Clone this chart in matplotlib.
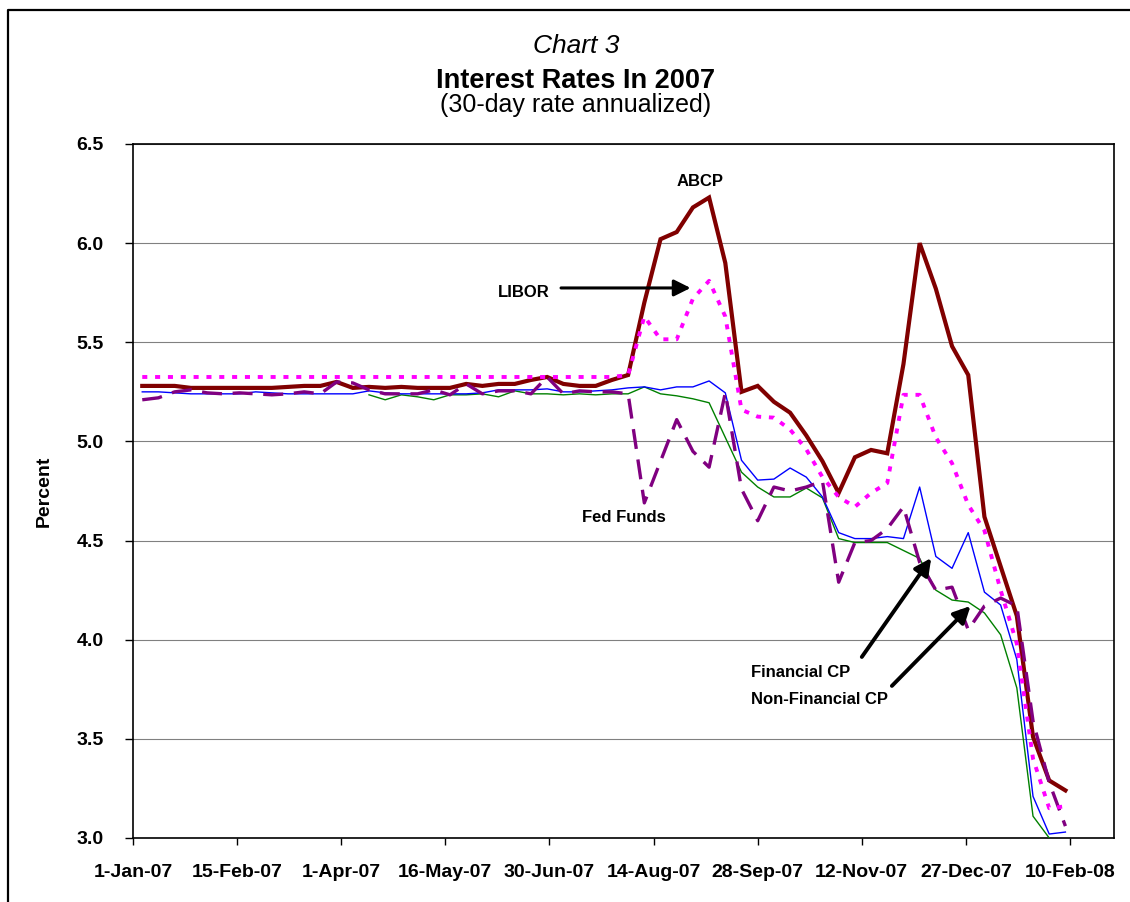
import datetime as dt
import numpy as np
import matplotlib
matplotlib.use("Agg")
import matplotlib.pyplot as plt
from matplotlib.lines import Line2D
from matplotlib import font_manager as fm

# ---------------- data (weekly, Fridays) ----------------
first_week = dt.date(2007, 1, 5)
n_weeks = 58
dates = [first_week + dt.timedelta(days=7 * i) for i in range(n_weeks)]

abcp = [5.28, 5.28, 5.28, 5.27, 5.27, 5.27, 5.27, 5.27, 5.27, 5.275,
        5.28, 5.28, 5.30, 5.27, 5.275, 5.27, 5.275, 5.27, 5.27, 5.27,
        5.29, 5.28, 5.29, 5.29, 5.31, 5.325, 5.29, 5.28, 5.28, 5.31,
        5.335, 5.70, 6.02, 6.056, 6.18, 6.23, 5.90, 5.25, 5.28, 5.20,
        5.145, 5.03, 4.90, 4.74, 4.92, 4.957, 4.94, 5.39, 6.00, 5.77,
        5.48, 5.335, 4.62, 4.37, 4.12, 3.51, 3.29, 3.24]

libor = [5.325, 5.325, 5.325, 5.325, 5.325, 5.325, 5.325, 5.325, 5.325, 5.325,
         5.325, 5.325, 5.325, 5.325, 5.325, 5.325, 5.325, 5.325, 5.325, 5.325,
         5.325, 5.325, 5.325, 5.325, 5.325, 5.325, 5.325, 5.325, 5.325, 5.325,
         5.335, 5.63, 5.515, 5.515, 5.72, 5.81, 5.63, 5.16, 5.125, 5.12,
         5.06, 4.96, 4.82, 4.72, 4.67, 4.74, 4.79, 5.235, 5.235, 5.02,
         4.89, 4.68, 4.55, 4.25, 3.98, 3.40, 3.15, 3.16]

fin_cp = [5.25, 5.25, 5.245, 5.24, 5.24, 5.24, 5.24, 5.25, 5.245, 5.24,
          5.24, 5.24, 5.24, 5.24, 5.255, 5.245, 5.24, 5.24, 5.24, 5.24,
          5.24, 5.245, 5.26, 5.26, 5.26, 5.265, 5.25, 5.25, 5.255, 5.26,
          5.27, 5.275, 5.26, 5.275, 5.275, 5.305, 5.245, 4.905, 4.805, 4.81,
          4.866, 4.82, 4.72, 4.54, 4.51, 4.51, 4.52, 4.51, 4.77, 4.42,
          4.36, 4.54, 4.24, 4.175, 3.90, 3.21, 3.02, 3.03]

nonfin_cp = [np.nan, np.nan, np.nan, np.nan, np.nan, np.nan, np.nan, np.nan, np.nan, np.nan,
             np.nan, np.nan, np.nan, np.nan, 5.235, 5.21, 5.235, 5.225, 5.21, 5.235,
             5.235, 5.24, 5.225, 5.255, 5.24, 5.24, 5.235, 5.24, 5.235, 5.24,
             5.24, 5.275, 5.24, 5.23, 5.215, 5.195, 5.02, 4.845, 4.77, 4.72,
             4.72, 4.765, 4.715, 4.51, 4.49, 4.49, 4.49, 4.45, 4.41, 4.25,
             4.20, 4.19, 4.135, 4.025, 3.757, 3.11, 3.00, np.nan]

fed_funds = [5.21, 5.22, 5.25, 5.26, 5.245, 5.24, 5.245, 5.24, 5.235, 5.24,
             5.25, 5.24, 5.30, 5.295, 5.26, 5.24, 5.24, 5.24, 5.26, 5.235,
             5.29, 5.24, 5.255, 5.255, 5.24, 5.325, 5.24, 5.255, 5.25, 5.25,
             5.24, 4.69, 4.90, 5.11, 4.95, 4.87, 5.245, 4.76, 4.60, 4.77,
             4.75, 4.77, 4.80, 4.29, 4.49, 4.50, 4.56, 4.67, 4.39, 4.25,
             4.265, 4.05, 4.17, 4.21, 4.17, 3.59, 3.28, 3.06]

x_tick_labels = ["1-Jan-07", "15-Feb-07", "1-Apr-07", "16-May-07", "30-Jun-07",
                 "14-Aug-07", "28-Sep-07", "12-Nov-07", "27-Dec-07", "10-Feb-08"]
y_ticks = [3.0, 3.5, 4.0, 4.5, 5.0, 5.5, 6.0, 6.5]

# ---------------- fonts ----------------
names = {f.name for f in fm.fontManager.ttflist}
BASE = "Liberation Sans" if "Liberation Sans" in names else "DejaVu Sans"
NARROW = "Liberation Sans Narrow" if "Liberation Sans Narrow" in names else None
if NARROW:
    ann_font = dict(family=[NARROW, "DejaVu Sans"], size=14, weight="bold")
else:
    ann_font = dict(family=[BASE, "DejaVu Sans"], size=12, weight="bold")
plt.rcParams["font.family"] = [BASE, "DejaVu Sans"]

# ---------------- figure ----------------
W, H = 1130, 902
fig = plt.figure(figsize=(W / 100, H / 100), dpi=100)
ax = fig.add_axes([133 / W, 1 - 838 / H, (1114 - 133) / W, (838 - 144) / H])

d0 = dt.date(2007, 1, 1)
def day(n):
    return d0 + dt.timedelta(days=n)

ax.plot(dates, nonfin_cp, color="#008000", lw=1.0, zorder=3)
ax.plot(dates, fin_cp, color="#0000FF", lw=1.0, zorder=4)
ax.plot(dates, abcp, color="#800000", lw=3.0, zorder=5, solid_joinstyle="miter")
ax.plot(dates, fed_funds, color="#800080", lw=2.4, zorder=6,
        linestyle=(0, (6.0, 3.2)))
ax.plot(dates, libor, color="#FF00FF", lw=2.8, zorder=7,
        linestyle=(0, (1.3, 2.0)), dash_capstyle="butt")

ax.set_xlim(day(0), dt.date(2008, 2, 29))
ax.set_ylim(3.0, 6.5)

tick_dates = [day(45 * i) for i in range(len(x_tick_labels))]
ax.set_xticks(tick_dates)
ax.set_xticklabels(x_tick_labels)
ax.set_yticks(y_ticks)
ax.set_yticklabels([f"{v:.1f}" for v in y_ticks])

ax.tick_params(axis="y", direction="out", length=6, width=1, pad=15,
               labelsize=14, colors="black")
ax.tick_params(axis="x", direction="out", length=5, width=1, pad=14,
               labelsize=14, colors="black")
for lab in ax.get_xticklabels() + ax.get_yticklabels():
    lab.set_fontweight("bold")

ax.grid(axis="y", color="#808080", lw=0.8, zorder=1)
ax.set_axisbelow(True)
for s in ax.spines.values():
    s.set_color("black")
    s.set_linewidth(1.2)

# ---------------- annotations ----------------
ax.text(day(245.9), 6.313, "ABCP", ha="center", va="center", zorder=10, **ann_font)
ax.text(day(169.9), 5.749, "LIBOR", ha="center", va="center", zorder=10, **ann_font)
ax.text(day(212.6), 4.614, "Fed Funds", ha="center", va="center", zorder=10, **ann_font)
ax.text(day(267.1), 3.837, "Financial CP", ha="left", va="center", zorder=10, **ann_font)
ax.text(day(267.1), 3.701, "Non-Financial CP", ha="left", va="center", zorder=10, **ann_font)

arrow_kw = dict(arrowstyle="-|>,head_length=0.5,head_width=0.25", color="black",
                shrinkA=0, shrinkB=0, mutation_scale=20)
ax.annotate("", xy=(day(241.6), 5.774), xytext=(day(185.8), 5.774),
            arrowprops=dict(lw=2.2, **arrow_kw), zorder=10)
ax.annotate("", xy=(day(345.8), 4.412), xytext=(day(315.1), 3.913),
            arrowprops=dict(lw=2.8, **arrow_kw), zorder=10)
ax.annotate("", xy=(day(362.2), 4.170), xytext=(day(328.9), 3.767),
            arrowprops=dict(lw=2.8, **arrow_kw), zorder=10)

# ---------------- titles ----------------
cx = 576 / W
fig.text(cx, 1 - 53.3 / H, "Chart 3", ha="center", va="baseline",
         fontsize=19, style="italic")
fig.text(cx, 1 - 88.3 / H, "Interest Rates In 2007", ha="center", va="baseline",
         fontsize=19.5, weight="bold")
fig.text(cx, 1 - 111.7 / H, "(30-day rate annualized)", ha="center", va="baseline",
         fontsize=18)
fig.text(44 / W, 1 - 491 / H, "Percent", rotation=90, ha="center", va="center",
         fontsize=14, weight="bold")

# outer chart frame (left and top edges visible)
fig.add_artist(Line2D([8 / W, 8 / W, 1.0], [0.0, 1 - 10 / H, 1 - 10 / H],
                      transform=fig.transFigure, color="black", lw=1.6))

fig.savefig("out.png", dpi=100)
